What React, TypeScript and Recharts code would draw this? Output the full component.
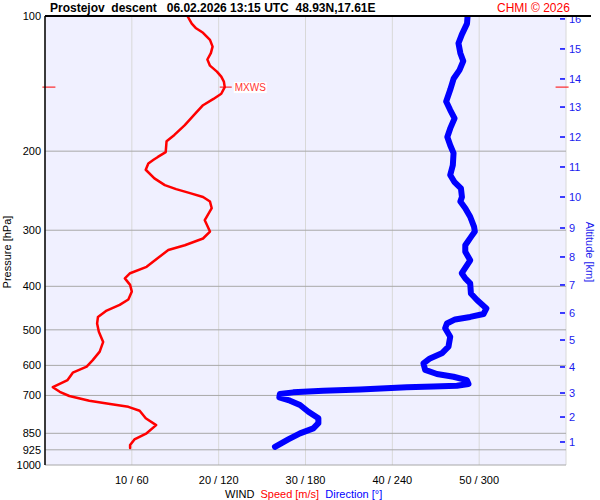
import React from 'react';
import { ScatterChart, Scatter, XAxis, YAxis, CartesianGrid, ReferenceLine } from 'recharts';

const pressureTicks = [100, 200, 300, 400, 500, 600, 700, 850, 925, 1000];
const speedTicks = [0, 10, 20, 30, 40, 50, 60];
const altitudeKm = [1, 2, 3, 4, 5, 6, 7, 8, 9, 10, 11, 12, 13, 14, 15, 16];
const altitudePressure = [888.7, 781.9, 691.3, 604.9, 526.8, 458.6, 397.2, 344.1, 296.6, 253.0, 216.9, 186.0, 159.5, 138.1, 118.4, 101.5];

const speedP = [100, 104, 106.5, 109, 113, 117, 121, 125, 129, 133, 136.5, 140, 144, 149, 153, 158, 165, 175, 184, 190, 201, 206, 209, 213, 220, 230, 238, 243, 248, 253, 259, 268, 285, 302, 313, 324, 332, 346, 362, 374, 384, 397, 411, 428, 440, 453, 468, 484, 505, 532, 559, 584, 604, 623, 647, 671, 687, 702, 719, 731, 742, 757, 787, 815, 850, 877, 903, 917];
const speedV = [16.4, 16.9, 17.4, 18.2, 19.0, 19.3, 19.1, 18.7, 19.0, 19.8, 20.3, 20.6, 20.7, 20.3, 19.4, 18.2, 17.3, 16.1, 14.9, 14.0, 13.9, 13.0, 12.5, 11.9, 11.6, 12.6, 13.8, 15.1, 16.7, 18.2, 19.0, 19.2, 18.4, 19.0, 18.2, 16.1, 14.2, 13.0, 11.7, 9.8, 9.2, 9.8, 10.0, 9.6, 8.6, 7.1, 6.1, 6.0, 6.2, 6.7, 6.3, 5.5, 4.8, 3.2, 2.6, 0.9, 1.7, 2.8, 5.1, 7.5, 9.6, 10.9, 11.6, 12.8, 11.7, 10.3, 9.8, 9.8];

const dirP = [100, 104, 110, 115, 121, 126, 132, 138, 146, 155, 162, 169, 178, 186, 194, 202, 215, 226, 234, 242, 253, 259, 268, 280, 295, 302, 310, 324, 335, 350, 374, 384, 394, 415, 429, 448, 461, 468, 474, 484, 496, 518, 545, 564, 579, 594, 614, 627, 636, 647, 660, 666, 669, 671, 679, 683, 689, 695, 707, 719, 735, 761, 787, 807, 829, 850, 877, 911];
const dirV = [292, 291.6, 288, 285.7, 287, 289, 286.4, 282.3, 280, 277.2, 280, 283, 280, 278, 280, 282.3, 281.8, 280, 282.8, 287.4, 288.1, 287, 290.4, 293.8, 296.5, 297, 294.5, 290.4, 290.4, 293.8, 288, 290.4, 293.8, 294.3, 298.5, 305, 303, 293.8, 283.4, 277.7, 276.5, 280, 278.8, 274.2, 266, 261.5, 262.7, 270.8, 282.3, 291.5, 292.6, 284.6, 268.4, 250, 217.7, 192.3, 171.5, 162.3, 161.9, 169.3, 176.2, 182, 188.9, 188.9, 185.4, 176.2, 168.1, 158.9];

const mxwsP = 144;
const mxwsSpeed = 20.7;

const speedData = speedP.map((p, i) => ({ p, spd: speedV[i] }));
const dirData = dirP.map((p, i) => ({ p, dir: dirV[i] }));
const mxwsData = [{ p: mxwsP, spd: mxwsSpeed }];

const FONT = "Arial, 'Liberation Sans', sans-serif";
const BLUE = '#0000ff';
const RED = '#ff0000';

const NoDot = () => <g />;

const MxwsShape = (props: any) => {
  const { cx, cy } = props;
  return (
    <g>
      <line x1={cx - 5} x2={cx + 7} y1={cy} y2={cy} stroke={RED} strokeWidth={1} />
      <rect x={cx + 9} y={cy - 5} width={33} height={11} fill="#ffffff" />
      <text x={cx + 10} y={cy} dy="0.36em" fontSize={10} fontFamily={FONT} fill="#ff3333">MXWS</text>
    </g>
  );
};

const AltTick = (props: any) => {
  const { x, y, payload } = props;
  const idx = altitudePressure.indexOf(payload.value);
  const label = idx >= 0 ? String(altitudeKm[idx]) : '';
  return (
    <g>
      <line x1={x - 6} x2={x - 1} y1={y} y2={y} stroke={BLUE} strokeWidth={1.5} />
      <text x={x + 3} y={y} dy="0.36em" fontSize={11} fontFamily={FONT} fill="#1a1aee" textAnchor="start">{label}</text>
    </g>
  );
};

const SpeedTick = (props: any) => {
  const { x, payload } = props;
  const v = payload.value as number;
  const label = v === 0 || v === 60 ? '' : `${v} / ${v * 6}`;
  return (
    <text x={x} y={480} dy="0.36em" fontSize={11} fontFamily={FONT} fill="#000" textAnchor="middle">{label}</text>
  );
};

const abs = (extra: React.CSSProperties): React.CSSProperties => ({ position: 'absolute', fontFamily: FONT, whiteSpace: 'pre', lineHeight: 1, ...extra });

export default function App() {
  return (
    <div style={{ position: 'absolute', left: 0, top: 0, width: 600, height: 500, background: '#ffffff' }}>
      <ScatterChart width={600} height={500} margin={{ top: 16, right: 0, bottom: 0, left: 0 }}>
        <CartesianGrid xAxisId="spd" yAxisId="p" horizontal={false} vertical={true} stroke="#d8d8d8" fill="#f0f0ff" strokeDasharray="" />
        <CartesianGrid xAxisId="spd" yAxisId="p" horizontal={true} vertical={false} stroke="#a8a8a8" strokeDasharray="" />
        <XAxis
          xAxisId="spd"
          type="number"
          dataKey="spd"
          domain={[0, 60]}
          ticks={speedTicks}
          allowDataOverflow
          height={35}
          axisLine={false}
          tickLine={false}
          interval={0}
          tick={<SpeedTick />}
        />
        <XAxis xAxisId="dir" orientation="top" type="number" dataKey="dir" domain={[0, 360]} allowDataOverflow hide height={0} />
        <YAxis
          yAxisId="p"
          type="number"
          dataKey="p"
          scale="log"
          domain={[100, 1000]}
          reversed
          allowDataOverflow
          ticks={pressureTicks}
          interval={0}
          width={45}
          axisLine={{ stroke: '#000', strokeWidth: 1.5 }}
          tickLine={false}
          tickSize={0}
          tickMargin={4}
          tick={{ fontSize: 11, fill: '#000', fontFamily: FONT }}
        />
        <YAxis
          yAxisId="alt"
          orientation="right"
          type="number"
          dataKey="p"
          scale="log"
          domain={[100, 1000]}
          reversed
          allowDataOverflow
          ticks={altitudePressure}
          interval={0}
          width={34}
          axisLine={false}
          tickLine={false}
          tickSize={0}
          tickMargin={0}
          tick={<AltTick />}
        />
        <ReferenceLine xAxisId="spd" yAxisId="p" segment={[{ x: -0.3, y: mxwsP }, { x: 1.2, y: mxwsP }]} stroke={RED} strokeWidth={1} ifOverflow="visible" />
        <ReferenceLine xAxisId="spd" yAxisId="p" segment={[{ x: 58.8, y: mxwsP }, { x: 60.3, y: mxwsP }]} stroke={RED} strokeWidth={1} ifOverflow="visible" />
        <Scatter
          xAxisId="dir"
          yAxisId="p"
          data={dirData}
          line={{ stroke: BLUE, strokeWidth: 6, strokeLinecap: 'round', strokeLinejoin: 'round' }}
          shape={<NoDot />}
          isAnimationActive={false}
        />
        <Scatter
          xAxisId="spd"
          yAxisId="p"
          data={speedData}
          line={{ stroke: RED, strokeWidth: 2.5, strokeLinecap: 'round', strokeLinejoin: 'round' }}
          shape={<NoDot />}
          isAnimationActive={false}
        />
        <Scatter xAxisId="spd" yAxisId="p" data={mxwsData} shape={<MxwsShape />} isAnimationActive={false} />
      </ScatterChart>

      <div style={{ position: 'absolute', left: 45, top: 15, width: 546, height: 1.5, background: '#000' }} />
      <div style={abs({ left: 50, top: 2, fontSize: 12, fontWeight: 'bold', color: '#000' })}>{'Prostejov  descent   06.02.2026 13:15 UTC  48.93N,17.61E'}</div>
      <div style={abs({ left: 497, top: 2, fontSize: 12, color: RED })}>{'CHMI © 2026'}</div>
      <div style={abs({ left: 7, top: 252, fontSize: 11, color: '#000', transform: 'translate(-50%, -50%) rotate(-90deg)' })}>{'Pressure [hPa]'}</div>
      <div style={abs({ left: 589, top: 252, fontSize: 11, color: '#1a1aee', transform: 'translate(-50%, -50%) rotate(90deg)' })}>{'Altitude [km]'}</div>
      <div style={abs({ left: 225, top: 489, fontSize: 11, color: '#000' })}>
        <span>{'WIND  '}</span>
        <span style={{ color: RED }}>{'Speed [m/s]'}</span>
        <span>{'  '}</span>
        <span style={{ color: BLUE }}>{'Direction [°]'}</span>
      </div>
    </div>
  );
}
